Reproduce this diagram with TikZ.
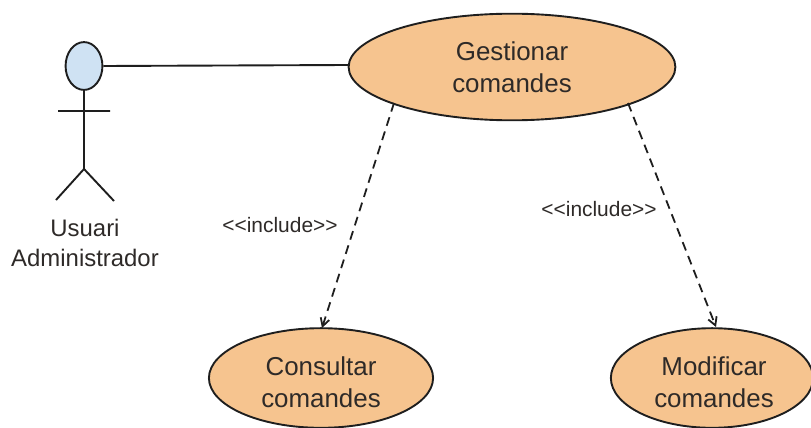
\documentclass[tikz,border=0pt]{standalone}
\usepackage{fontspec}
\setmainfont{Liberation Sans}
\usetikzlibrary{shapes.geometric,arrows.meta}
\definecolor{uc}{HTML}{F6C48F}
\definecolor{actorc}{HTML}{CFE2F3}
\definecolor{ln}{HTML}{1E1E1E}
\definecolor{tx}{HTML}{2E2A28}
\tikzset{
 px/.style={x=0.0352778cm,y=-0.0352778cm},
 usecase/.style={ellipse,draw=ln,line width=1.9pt,fill=uc,inner sep=0pt,align=center,font=\fontsize{26}{32}\selectfont,text=tx},
 lbl/.style={font=\fontsize{21}{26}\selectfont,text=tx,inner sep=0pt,align=center},
 actorlbl/.style={font=\fontsize{24}{30}\selectfont,text=tx,inner sep=0pt,align=center},
 dep/.style={draw=ln,line width=1.8pt,dash pattern=on 9pt off 6pt,-{Straight Barb[length=8pt,width=9pt]}},
 sol/.style={draw=ln,line width=1.9pt}
}
\begin{document}
\begin{tikzpicture}[px]
\useasboundingbox (0,0) rectangle (811,428);
\fill[white] (0,0) rectangle (811,428);
\node[usecase,minimum width=328,minimum height=107] (g) at (512,67) {Gestionar\\comandes};
\node[usecase,minimum width=225,minimum height=100] (c) at (321,378) {};
\node[usecase,minimum width=203,minimum height=100] (m) at (712,378) {};
\node[font=\fontsize{26}{32}\selectfont,align=center,text=tx,inner sep=0pt] (ct) at (321,382) {Consultar\\comandes};
\node[font=\fontsize{26}{32}\selectfont,align=center,text=tx,inner sep=0pt] (mt) at (714,382) {Modificar\\comandes};
\node[ellipse,draw=ln,line width=1.9pt,fill=actorc,minimum width=37,minimum height=48,inner sep=0pt] (head) at (84,66) {};
\coordinate (hip) at (84,169);
\coordinate (lf) at (56,200);
\coordinate (rf) at (114,201);
\coordinate (al) at (58,111);
\coordinate (ar) at (110,111);
\coordinate (ge) at (348,65);
\draw[sol] (head) -- (hip) (hip) -- (lf) (hip) -- (rf) (al) -- (ar);
\draw[sol] (head.east) -- (ge);
\node[actorlbl] (ua) at (85,243) {Usuari\\Administrador};
\coordinate (g1) at (394,103);
\coordinate (g2) at (628,103);
\coordinate (ce) at (322,328);
\coordinate (me) at (716,327);
\draw[dep] (g1) -- (ce);
\draw[dep] (g2) -- (me);
\node[lbl] (i1) at (280,225) {<{}<include>{}>};
\node[lbl] (i2) at (599,209) {<{}<include>{}>};
\end{tikzpicture}
\end{document}
